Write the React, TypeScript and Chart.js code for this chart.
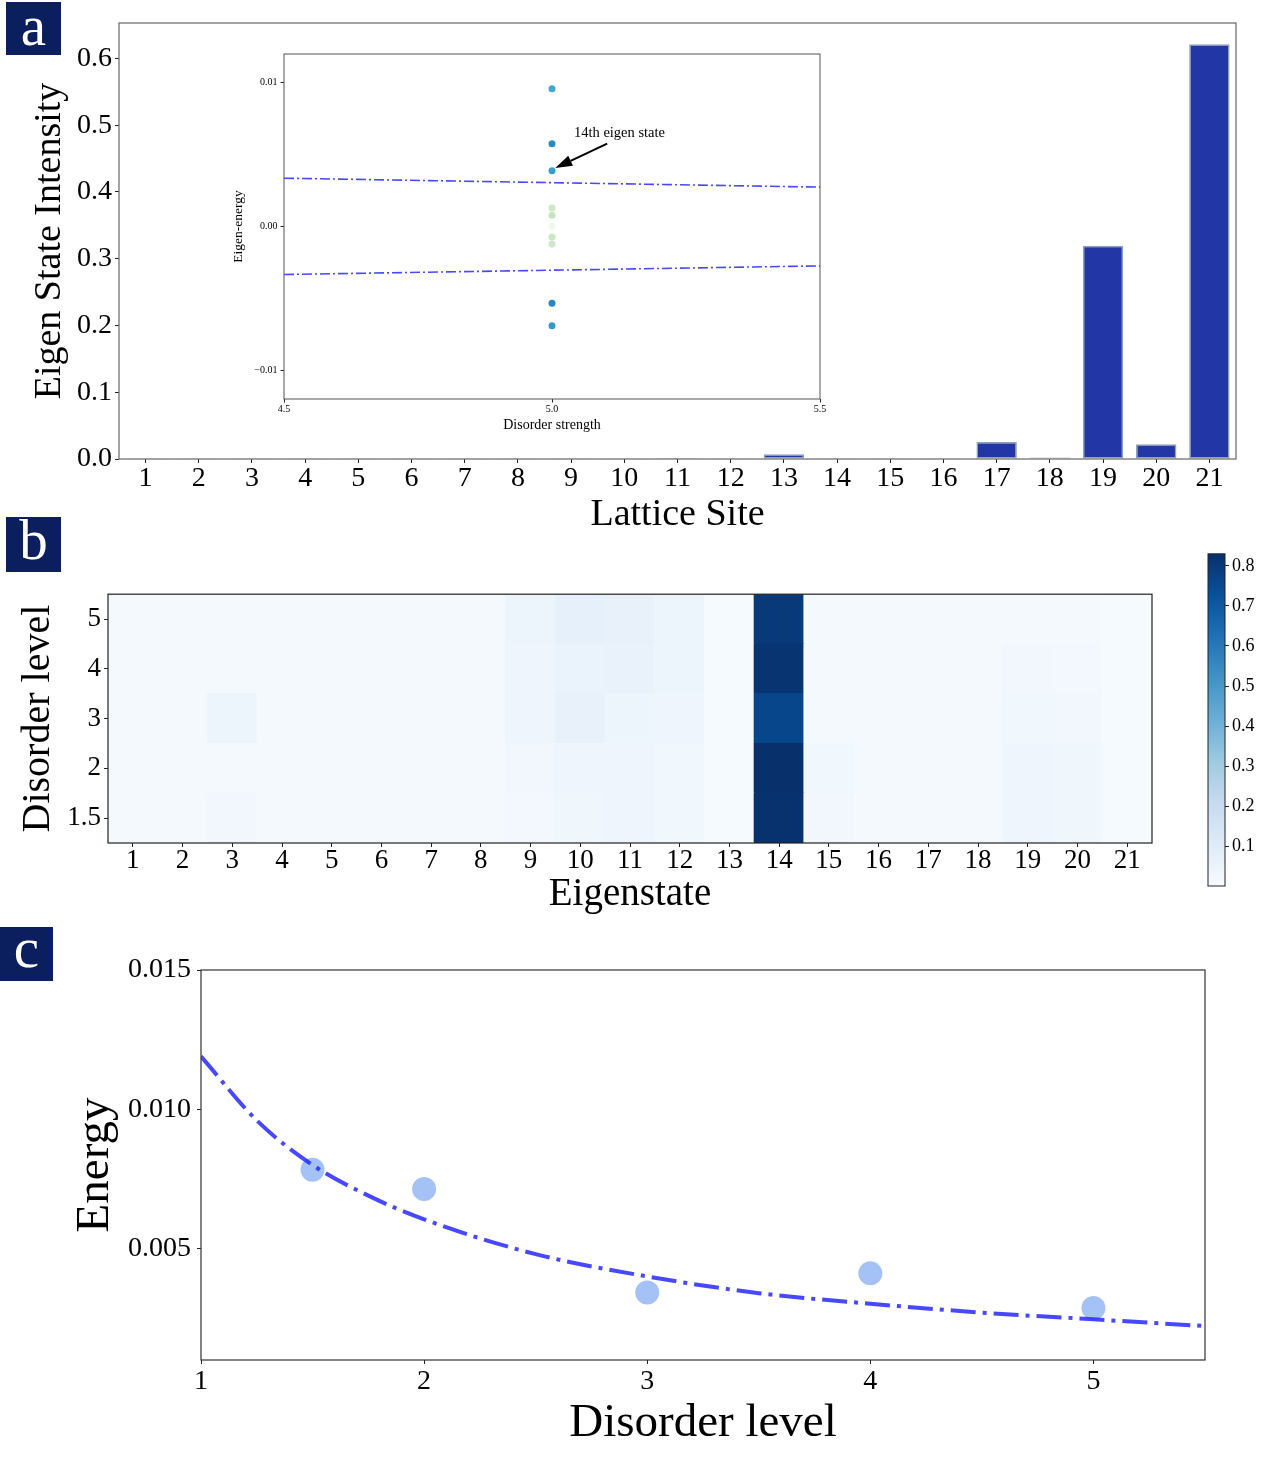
import { useEffect, useRef } from "react";
import { Chart, registerables } from "chart.js";
import type { ChartConfiguration, Plugin } from "chart.js";

Chart.register(...registerables);

const SERIF = "'Liberation Serif', 'Times New Roman', Times, serif";
Chart.defaults.font.family = SERIF;
Chart.defaults.color = "#000";

// ---- panel a: intensity of the 14th eigen state on each lattice site
const latticeSites = ["1", "2", "3", "4", "5", "6", "7", "8", "9", "10", "11", "12", "13", "14", "15", "16", "17", "18", "19", "20", "21"];
const siteIntensity = [0.0003, 0.0002, 0.0003, 0.0002, 0.0002, 0.0002, 0.0002, 0.0002, 0.0003, 0.0005, 0.0014, 0.0003, 0.007, 0.0002, 0.001, 0.0004, 0.0255, 0.0022, 0.3195, 0.022, 0.621];

// ---- inset: eigen-energies at disorder strength 5.0
const insetStrength = [5.0, 5.0, 5.0, 5.0, 5.0, 5.0, 5.0, 5.0, 5.0, 5.0];
const insetEnergy = [0.00958, 0.00576, 0.00387, 0.00129, 0.00079, 0.0, -0.00073, -0.00122, -0.00534, -0.0069];
const insetColors = ["#42a6d1", "#2a8bc0", "#3a9ecd", "#cbe9c5", "#c6e6c0", "#f1f9ee", "#c9e8c3", "#cde9c8", "#2887c0", "#3699cb"];
const boundStrength = [4.5, 5.5];
const upperBound = [0.00336, 0.00274];
const lowerBound = [-0.00334, -0.00274];
const noteText = "14th eigen state";
const noteAt = [5.041, 0.00621];
const arrowFrom = [5.103, 0.00576];
const arrowTo = [5.006, 0.00407];

// ---- panel b: intensity map, eigenstate x disorder level
const eigenstates = ["1", "2", "3", "4", "5", "6", "7", "8", "9", "10", "11", "12", "13", "14", "15", "16", "17", "18", "19", "20", "21"];
const disorderLevels = ["1.5", "2", "3", "4", "5"];
const heat15 = [0.012, 0.012, 0.025, 0.012, 0.012, 0.012, 0.012, 0.012, 0.02, 0.035, 0.04, 0.03, 0.008, 0.825, 0.025, 0.012, 0.012, 0.012, 0.04, 0.035, 0.01];
const heat2 = [0.012, 0.012, 0.015, 0.012, 0.012, 0.012, 0.012, 0.012, 0.025, 0.04, 0.04, 0.03, 0.008, 0.83, 0.03, 0.012, 0.012, 0.012, 0.04, 0.035, 0.01];
const heat3 = [0.012, 0.012, 0.045, 0.012, 0.012, 0.012, 0.012, 0.012, 0.04, 0.065, 0.045, 0.04, 0.008, 0.76, 0.015, 0.012, 0.012, 0.012, 0.03, 0.025, 0.01];
const heat4 = [0.012, 0.012, 0.012, 0.012, 0.012, 0.012, 0.012, 0.012, 0.04, 0.055, 0.06, 0.045, 0.008, 0.815, 0.015, 0.012, 0.012, 0.012, 0.025, 0.02, 0.01];
const heat5 = [0.012, 0.012, 0.012, 0.012, 0.012, 0.012, 0.012, 0.012, 0.042, 0.07, 0.065, 0.045, 0.008, 0.8, 0.015, 0.012, 0.012, 0.012, 0.015, 0.015, 0.01];
const heatRows = [heat15, heat2, heat3, heat4, heat5];
const heatMin = 0.001;
const heatMax = 0.83;

// ---- panel c: energy vs disorder level
const disorderLevel = [1.5, 2, 3, 4, 5];
const energy = [0.00783, 0.00714, 0.00342, 0.00411, 0.00287];
const fitLevel = [1, 1.25, 1.5, 1.75, 2, 2.5, 3, 3.5, 4, 4.5, 5, 5.5];
const fitEnergy = [0.0119, 0.0096, 0.008, 0.0069, 0.00605, 0.0048, 0.004, 0.0034, 0.00302, 0.0027, 0.00246, 0.00222];

const BLUES = [
  [247, 251, 255], [222, 235, 247], [198, 219, 239], [158, 202, 225], [107, 174, 214],
  [66, 146, 198], [33, 113, 181], [8, 81, 156], [8, 48, 107],
];

const blues = (v: number) => {
  const t = Math.min(1, Math.max(0, (v - heatMin) / (heatMax - heatMin))) * (BLUES.length - 1);
  const i = Math.min(BLUES.length - 2, Math.floor(t));
  const f = t - i;
  const c = BLUES[i].map((a, k) => Math.round(a + (BLUES[i + 1][k] - a) * f));
  return `rgb(${c.join(",")})`;
};

const framePlugin: Plugin = {
  id: "frame",
  afterDraw(chart, _args, opts: any) {
    const { ctx, chartArea: a } = chart;
    ctx.save();
    ctx.strokeStyle = opts.color || "#333";
    ctx.lineWidth = opts.width || 1;
    ctx.strokeRect(a.left, a.top, a.right - a.left, a.bottom - a.top);
    ctx.restore();
  },
};

const notePlugin: Plugin = {
  id: "note",
  afterDatasetsDraw(chart) {
    const { ctx, scales } = chart;
    const px = (p: number[]) => [scales.x.getPixelForValue(p[0]), scales.y.getPixelForValue(p[1])];
    const [tx, ty] = px(noteAt);
    const [ax, ay] = px(arrowFrom);
    const [bx, by] = px(arrowTo);
    const ang = Math.atan2(by - ay, bx - ax);
    const head = 17;
    const half = 5.5;
    const hx = bx - head * Math.cos(ang);
    const hy = by - head * Math.sin(ang);
    ctx.save();
    ctx.font = `14.5px ${SERIF}`;
    ctx.fillStyle = "#000";
    ctx.textBaseline = "alphabetic";
    ctx.fillText(noteText, tx, ty);
    ctx.strokeStyle = "#000";
    ctx.lineWidth = 2;
    ctx.beginPath();
    ctx.moveTo(ax, ay);
    ctx.lineTo(hx, hy);
    ctx.stroke();
    ctx.beginPath();
    ctx.moveTo(bx, by);
    ctx.lineTo(hx + half * Math.sin(ang), hy - half * Math.cos(ang));
    ctx.lineTo(hx - half * Math.sin(ang), hy + half * Math.cos(ang));
    ctx.closePath();
    ctx.fill();
    ctx.restore();
  },
};

const tickGrid = (len: number) => ({
  display: true,
  drawOnChartArea: false,
  drawTicks: true,
  tickLength: len,
  tickColor: "#222",
  offset: false,
});

const fixWidth = (w: number) => (s: any) => { s.width = w; };
const fixHeight = (h: number) => (s: any) => { s.height = h; };
const noLegend = { legend: { display: false }, tooltip: { enabled: false } };

const barConfig = (): ChartConfiguration => ({
  type: "bar",
  data: {
    labels: latticeSites,
    datasets: [{
      data: siteIntensity,
      backgroundColor: "#2236a6",
      borderColor: "#8fa1b5",
      borderWidth: 1.5,
      borderSkipped: false,
      barPercentage: 0.76,
      categoryPercentage: 1,
    }],
  },
  options: {
    responsive: false,
    animation: false,
    layout: { padding: { top: 23, right: 24, left: 0, bottom: 0 } },
    plugins: { ...noLegend, frame: { color: "#666", width: 1.2 } } as any,
    scales: {
      x: {
        grid: tickGrid(4),
        border: { display: false },
        ticks: { font: { size: 28, lineHeight: 1 }, padding: 2, maxRotation: 0, autoSkip: false },
        title: { display: true, text: "Lattice Site", font: { size: 38 }, padding: { top: 0, bottom: 2 } },
        afterFit: fixHeight(81),
      },
      y: {
        min: 0,
        max: 0.653,
        grid: tickGrid(4),
        border: { display: false },
        ticks: { stepSize: 0.1, includeBounds: false, font: { size: 28 }, padding: 3, callback: (v: any) => Number(v).toFixed(1) },
        title: { display: true, text: "Eigen State Intensity", font: { size: 38 }, padding: { top: 27, bottom: 0 } },
        afterFit: fixWidth(119),
      },
    },
  },
  plugins: [framePlugin],
});

const insetConfig = (): ChartConfiguration => ({
  type: "scatter",
  data: {
    datasets: [
      {
        type: "line",
        data: boundStrength.map((x, i) => ({ x, y: upperBound[i] })),
        borderColor: "rgba(40,40,255,0.85)",
        borderWidth: 1.6,
        borderDash: [10, 3, 2, 3],
        pointRadius: 0,
      } as any,
      {
        type: "line",
        data: boundStrength.map((x, i) => ({ x, y: lowerBound[i] })),
        borderColor: "rgba(40,40,255,0.85)",
        borderWidth: 1.6,
        borderDash: [10, 3, 2, 3],
        pointRadius: 0,
      },
      {
        data: insetStrength.map((x, i) => ({ x, y: insetEnergy[i] })),
        backgroundColor: insetColors,
        borderWidth: 0,
        pointRadius: 3.5,
      },
    ],
  },
  options: {
    responsive: false,
    animation: false,
    layout: { padding: { top: 7, right: 15, left: 0, bottom: 0 } },
    plugins: { ...noLegend, frame: { color: "#555", width: 1 } } as any,
    scales: {
      x: {
        type: "linear",
        min: 4.5,
        max: 5.5,
        grid: tickGrid(3.5),
        border: { display: false },
        ticks: { stepSize: 0.5, font: { size: 10, lineHeight: 1 }, padding: 2, callback: (v: any) => Number(v).toFixed(1) },
        title: { display: true, text: "Disorder strength", font: { size: 14 }, padding: { top: 0, bottom: 6.4 } },
        afterFit: fixHeight(41),
      },
      y: {
        min: -0.012,
        max: 0.012,
        grid: tickGrid(3.5),
        border: { display: false },
        ticks: {
          stepSize: 0.01,
          includeBounds: false,
          font: { size: 10 },
          padding: 3,
          callback: (v: any) => (Math.abs(v) < 1e-9 ? "0.00" : Number(v).toFixed(2).replace("-", "\u2212")),
        },
        title: { display: true, text: "Eigen-energy", font: { size: 13.5 }, padding: { top: 5.3, bottom: 0 } },
        afterFit: fixWidth(59),
      },
    },
  },
  plugins: [framePlugin, notePlugin],
});

const heatConfig = (): ChartConfiguration => ({
  type: "bar",
  data: {
    labels: eigenstates,
    datasets: heatRows.map((row, r) => ({
      data: row.map(() => [r - 0.5, r + 0.5]),
      backgroundColor: row.map(blues),
      borderWidth: 0,
      barPercentage: 1,
      categoryPercentage: 1,
      grouped: false,
      inflateAmount: 0.6,
    })) as any,
  },
  options: {
    responsive: false,
    animation: false,
    layout: { padding: { top: 19, right: 28, left: 0, bottom: 0 } },
    plugins: { ...noLegend, frame: { color: "#222", width: 1.2 } } as any,
    scales: {
      x: {
        grid: tickGrid(4),
        border: { display: false },
        ticks: { font: { size: 27, lineHeight: 1 }, padding: 0, maxRotation: 0, autoSkip: false },
        title: { display: true, text: "Eigenstate", font: { size: 39 }, padding: { top: 0, bottom: 2 } },
        afterFit: fixHeight(77),
      },
      y: {
        type: "linear",
        min: -0.5,
        max: 4.5,
        grid: tickGrid(4),
        border: { display: false },
        afterBuildTicks: (s: any) => {
          s.ticks = disorderLevels.map((_, i) => ({ value: i }));
        },
        ticks: { font: { size: 27 }, padding: 3, callback: (v: any) => disorderLevels[Math.round(v)] },
        title: { display: true, text: "Disorder level", font: { size: 40 }, padding: { top: 14.5, bottom: 0 } },
        afterFit: fixWidth(108),
      },
    },
  },
  plugins: [framePlugin],
});

const colorbarConfig = (): ChartConfiguration => ({
  type: "bar",
  data: {
    labels: [""],
    datasets: [{
      data: [[heatMin, heatMax]] as any,
      backgroundColor: (c: any) => {
        const { ctx, chartArea } = c.chart;
        if (!chartArea) return "rgb(8,48,107)";
        const g = ctx.createLinearGradient(0, chartArea.bottom, 0, chartArea.top);
        BLUES.forEach((rgb, i) => g.addColorStop(i / (BLUES.length - 1), `rgb(${rgb.join(",")})`));
        return g;
      },
      borderWidth: 0,
      barPercentage: 1,
      categoryPercentage: 1,
      inflateAmount: 0,
    }],
  },
  options: {
    responsive: false,
    animation: false,
    layout: { padding: { top: 11, right: 0, left: 13, bottom: 14 } },
    plugins: { ...noLegend, frame: { color: "#222", width: 1 } } as any,
    scales: {
      x: { display: false },
      y: {
        position: "right",
        min: heatMin,
        max: heatMax,
        grid: tickGrid(4),
        border: { display: false },
        ticks: { stepSize: 0.1, includeBounds: false, font: { size: 18 }, padding: 3, callback: (v: any) => Number(v).toFixed(1) },
        afterFit: fixWidth(55),
      },
    },
  },
  plugins: [framePlugin],
});

const energyConfig = (): ChartConfiguration => ({
  type: "scatter",
  data: {
    datasets: [
      {
        type: "line",
        data: fitLevel.map((x, i) => ({ x, y: fitEnergy[i] })),
        borderColor: "rgba(40,40,255,0.85)",
        borderWidth: 4,
        borderDash: [25, 7, 4, 7],
        cubicInterpolationMode: "monotone",
        pointRadius: 0,
        order: 1,
      } as any,
      {
        data: disorderLevel.map((x, i) => ({ x, y: energy[i] })),
        backgroundColor: "#a5c2f7",
        borderWidth: 0,
        pointRadius: 12,
        order: 2,
      },
    ],
  },
  options: {
    responsive: false,
    animation: false,
    layout: { padding: { top: 35, right: 35, left: 0, bottom: 0 } },
    plugins: { ...noLegend, frame: { color: "#333", width: 1.2 } } as any,
    scales: {
      x: {
        type: "linear",
        min: 1,
        max: 5.5,
        grid: tickGrid(4),
        border: { display: false },
        ticks: { stepSize: 1, includeBounds: false, font: { size: 28, lineHeight: 1 }, padding: 4 },
        title: { display: true, text: "Disorder level", font: { size: 47 }, padding: { top: 0, bottom: 4.7 } },
        afterFit: fixHeight(97),
      },
      y: {
        min: 0.001,
        max: 0.015,
        grid: tickGrid(4),
        border: { display: false },
        ticks: { stepSize: 0.005, includeBounds: false, font: { size: 28 }, padding: 6, callback: (v: any) => Number(v).toFixed(3) },
        title: { display: true, text: "Energy", font: { size: 47 }, padding: { top: 67, bottom: 0 } },
        afterFit: fixWidth(201),
      },
    },
  },
  plugins: [framePlugin],
});

type Box = { left: number; top: number; width: number; height: number };

const ChartCanvas = ({ box, make }: { box: Box; make: () => ChartConfiguration }) => {
  const canvasRef = useRef<HTMLCanvasElement>(null);

  useEffect(() => {
    if (!canvasRef.current) return;
    const chart = new Chart(canvasRef.current, make());
    return () => chart.destroy();
  }, [make]);

  return (
    <canvas
      ref={canvasRef}
      width={box.width}
      height={box.height}
      style={{ position: "absolute", left: box.left, top: box.top, width: box.width, height: box.height }}
    />
  );
};

const panelTags = [
  { text: "a", left: 6, top: 2, width: 55, height: 53, baseline: 43 },
  { text: "b", left: 6, top: 517, width: 55, height: 55, baseline: 42 },
  { text: "c", left: 0, top: 927, width: 53, height: 54, baseline: 40 },
];

const PanelTag = ({ text, left, top, width, height, baseline }: (typeof panelTags)[number]) => (
  <div style={{ position: "absolute", left, top, width, height, background: "#0b1f5e" }}>
    <span
      style={{
        position: "absolute",
        left: 0,
        right: 0,
        top: baseline - 47.7,
        textAlign: "center",
        color: "#fff",
        fontFamily: SERIF,
        fontSize: 57,
        lineHeight: "57px",
      }}
    >
      {text}
    </span>
  </div>
);

const App = () => (
  <div style={{ position: "absolute", left: 0, top: 0, width: 1280, height: 1457, background: "#fff", overflow: "hidden" }}>
    <ChartCanvas box={{ left: 0, top: 0, width: 1260, height: 540 }} make={barConfig} />
    <ChartCanvas box={{ left: 225, top: 45, width: 610, height: 395 }} make={insetConfig} />
    <ChartCanvas box={{ left: 0, top: 575, width: 1180, height: 345 }} make={heatConfig} />
    <ChartCanvas box={{ left: 1195, top: 540, width: 85, height: 360 }} make={colorbarConfig} />
    <ChartCanvas box={{ left: 0, top: 935, width: 1240, height: 522 }} make={energyConfig} />
    {panelTags.map((t) => (
      <PanelTag key={t.text} {...t} />
    ))}
  </div>
);

export default App;
